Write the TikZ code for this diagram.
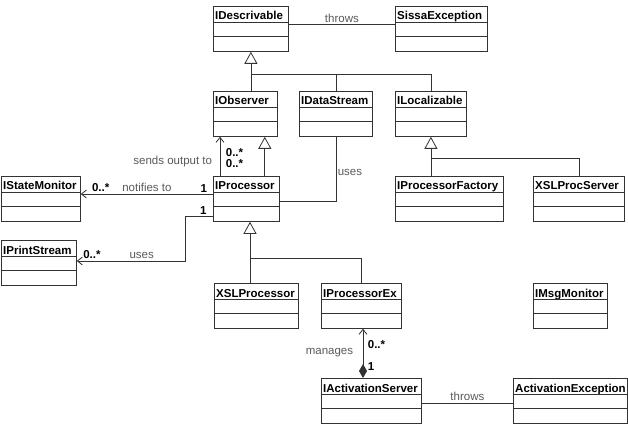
\documentclass[tikz,border=0pt]{standalone}
\usepackage{fontspec}
\setmainfont{Liberation Sans}
\usetikzlibrary{arrows.meta}

% class box: name, north west corner, width, title
\newcommand{\umlclass}[4]{%
  \node[classbox, minimum width=#3] (#1) at (#2) {};
  \node[classname] (#1-name) at ([xshift=2pt, yshift=-14pt]#1.north west) {#4};
  \draw[wire] ([yshift=-16pt]#1.north west) -- ([yshift=-16pt]#1.north east);
  \draw[wire] ([yshift=-30pt]#1.north west) -- ([yshift=-30pt]#1.north east);
}

\begin{document}
\begin{tikzpicture}[
    x=1pt, y=-1pt,
    wire/.style={draw=black!80, line width=0.8pt},
    classbox/.style={rectangle, wire, anchor=north west, minimum height=45pt, inner sep=0pt},
    classname/.style={anchor=base west, inner sep=0pt, font=\fontsize{11.5}{13}\selectfont\bfseries},
    lbl/.style={font=\fontsize{11.5}{13}\selectfont, text=black!65, inner sep=1.5pt},
    mult/.style={font=\fontsize{11.5}{11}\selectfont\bfseries, inner sep=1.5pt, align=left},
    gen/.style={-{Triangle[open, length=12pt, width=13pt]}},
    assoc/.style={-{Straight Barb[length=5pt, width=8pt]}},
    comp/.style={{Diamond[length=14pt, width=8pt]}-{Straight Barb[length=5pt, width=8pt]}}
]
\useasboundingbox (0,0) rectangle (628,430);

\umlclass{desc}{213,6}{75pt}{IDescrivable}
\umlclass{sissa}{395,6}{92pt}{SissaException}
\umlclass{obs}{213,91}{64pt}{IObserver}
\umlclass{dstream}{299,91}{73pt}{IDataStream}
\umlclass{local}{395,91}{71pt}{ILocalizable}
\umlclass{smon}{1,176}{79pt}{IStateMonitor}
\umlclass{proc}{213,176}{66pt}{IProcessor}
\umlclass{pfact}{395,176}{108pt}{IProcessorFactory}
\umlclass{xslsrv}{533,176}{91pt}{XSLProcServer}
\umlclass{pstream}{1,240}{75pt}{IPrintStream}
\umlclass{xslproc}{214,283}{84pt}{XSLProcessor}
\umlclass{procex}{321,283}{80pt}{IProcessorEx}
\umlclass{msgmon}{533,283}{74pt}{IMsgMonitor}
\umlclass{actsrv}{321,378}{100pt}{IActivationServer}
\umlclass{actexc}{513,378}{114pt}{ActivationException}

% junctions of the generalization trees
\coordinate (descjoin) at ([yshift=-23pt]desc.south);
\coordinate (localjoin) at ([yshift=-22pt]local.south);
\coordinate (procjoin) at ([xshift=37pt, yshift=-37pt]proc.south west);
\coordinate (sendstart) at ([xshift=7pt]proc.north west);
\coordinate (genstart) at ([xshift=-15pt]proc.north east);
\coordinate (mgtop) at ([xshift=42pt]actsrv.north west);

\draw[wire] ([yshift=4pt]desc.east) -- node[lbl, above] (throwsa) {throws} ([yshift=4pt]sissa.west);

\draw[wire, gen] (descjoin) -- (desc.south);
\draw[wire] (obs.north -| descjoin) -- (descjoin) -| (dstream.north);
\draw[wire] (descjoin) -| (local.north);

\draw[wire, assoc] (sendstart) -- node[lbl, left=6pt, pos=0.37] (sendslbl) {sends output to}
    node[mult, right=4pt, pos=0.46] (sendsmult) {0..*\\0..*} (sendstart |- obs.south);
\draw[wire, gen] (genstart) -- (genstart |- obs.south);

\draw[wire, assoc] ([yshift=-18pt]proc.north west) -- node[mult, above, pos=0.07] (notifyone) {1}
    node[lbl, above, pos=0.5] (notifylbl) {notifies to}
    node[mult, above, pos=0.85] (notifymult) {0..*} ([yshift=-18pt]smon.north east);

\draw[wire, assoc] ([yshift=-40pt]proc.north west) -- node[mult, above, pos=0.35] (printone) {1} ++(-28,0)
    |- node[lbl, above, pos=0.7] (printlbl) {uses}
    node[mult, above, pos=0.93] (printmult) {0..*} ([yshift=-21pt]pstream.north east);

\draw[wire] ([yshift=-25pt]proc.north east) -| node[lbl, right, pos=0.72] (streamlbl) {uses} (dstream.south);

\draw[wire, gen] (localjoin) -- (local.south);
\draw[wire] (pfact.north -| localjoin) -- (localjoin) -| (xslsrv.north);

\draw[wire, gen] (procjoin) -- (procjoin |- proc.south);
\draw[wire] (xslproc.north -| procjoin) -- (procjoin) -| (procex.north);

\draw[wire, comp] (mgtop) -- node[lbl, left=8pt, pos=0.51] (managelbl) {manages}
    node[mult, right=3pt, pos=0.69] (managemult) {0..*}
    node[mult, right=3pt, pos=0.24] (manageone) {1} (mgtop |- procex.south);

\draw[wire] ([yshift=-25pt]actsrv.north east) -- node[lbl, above] (throwsb) {throws} ([yshift=-25pt]actexc.north west);
\end{tikzpicture}
\end{document}
